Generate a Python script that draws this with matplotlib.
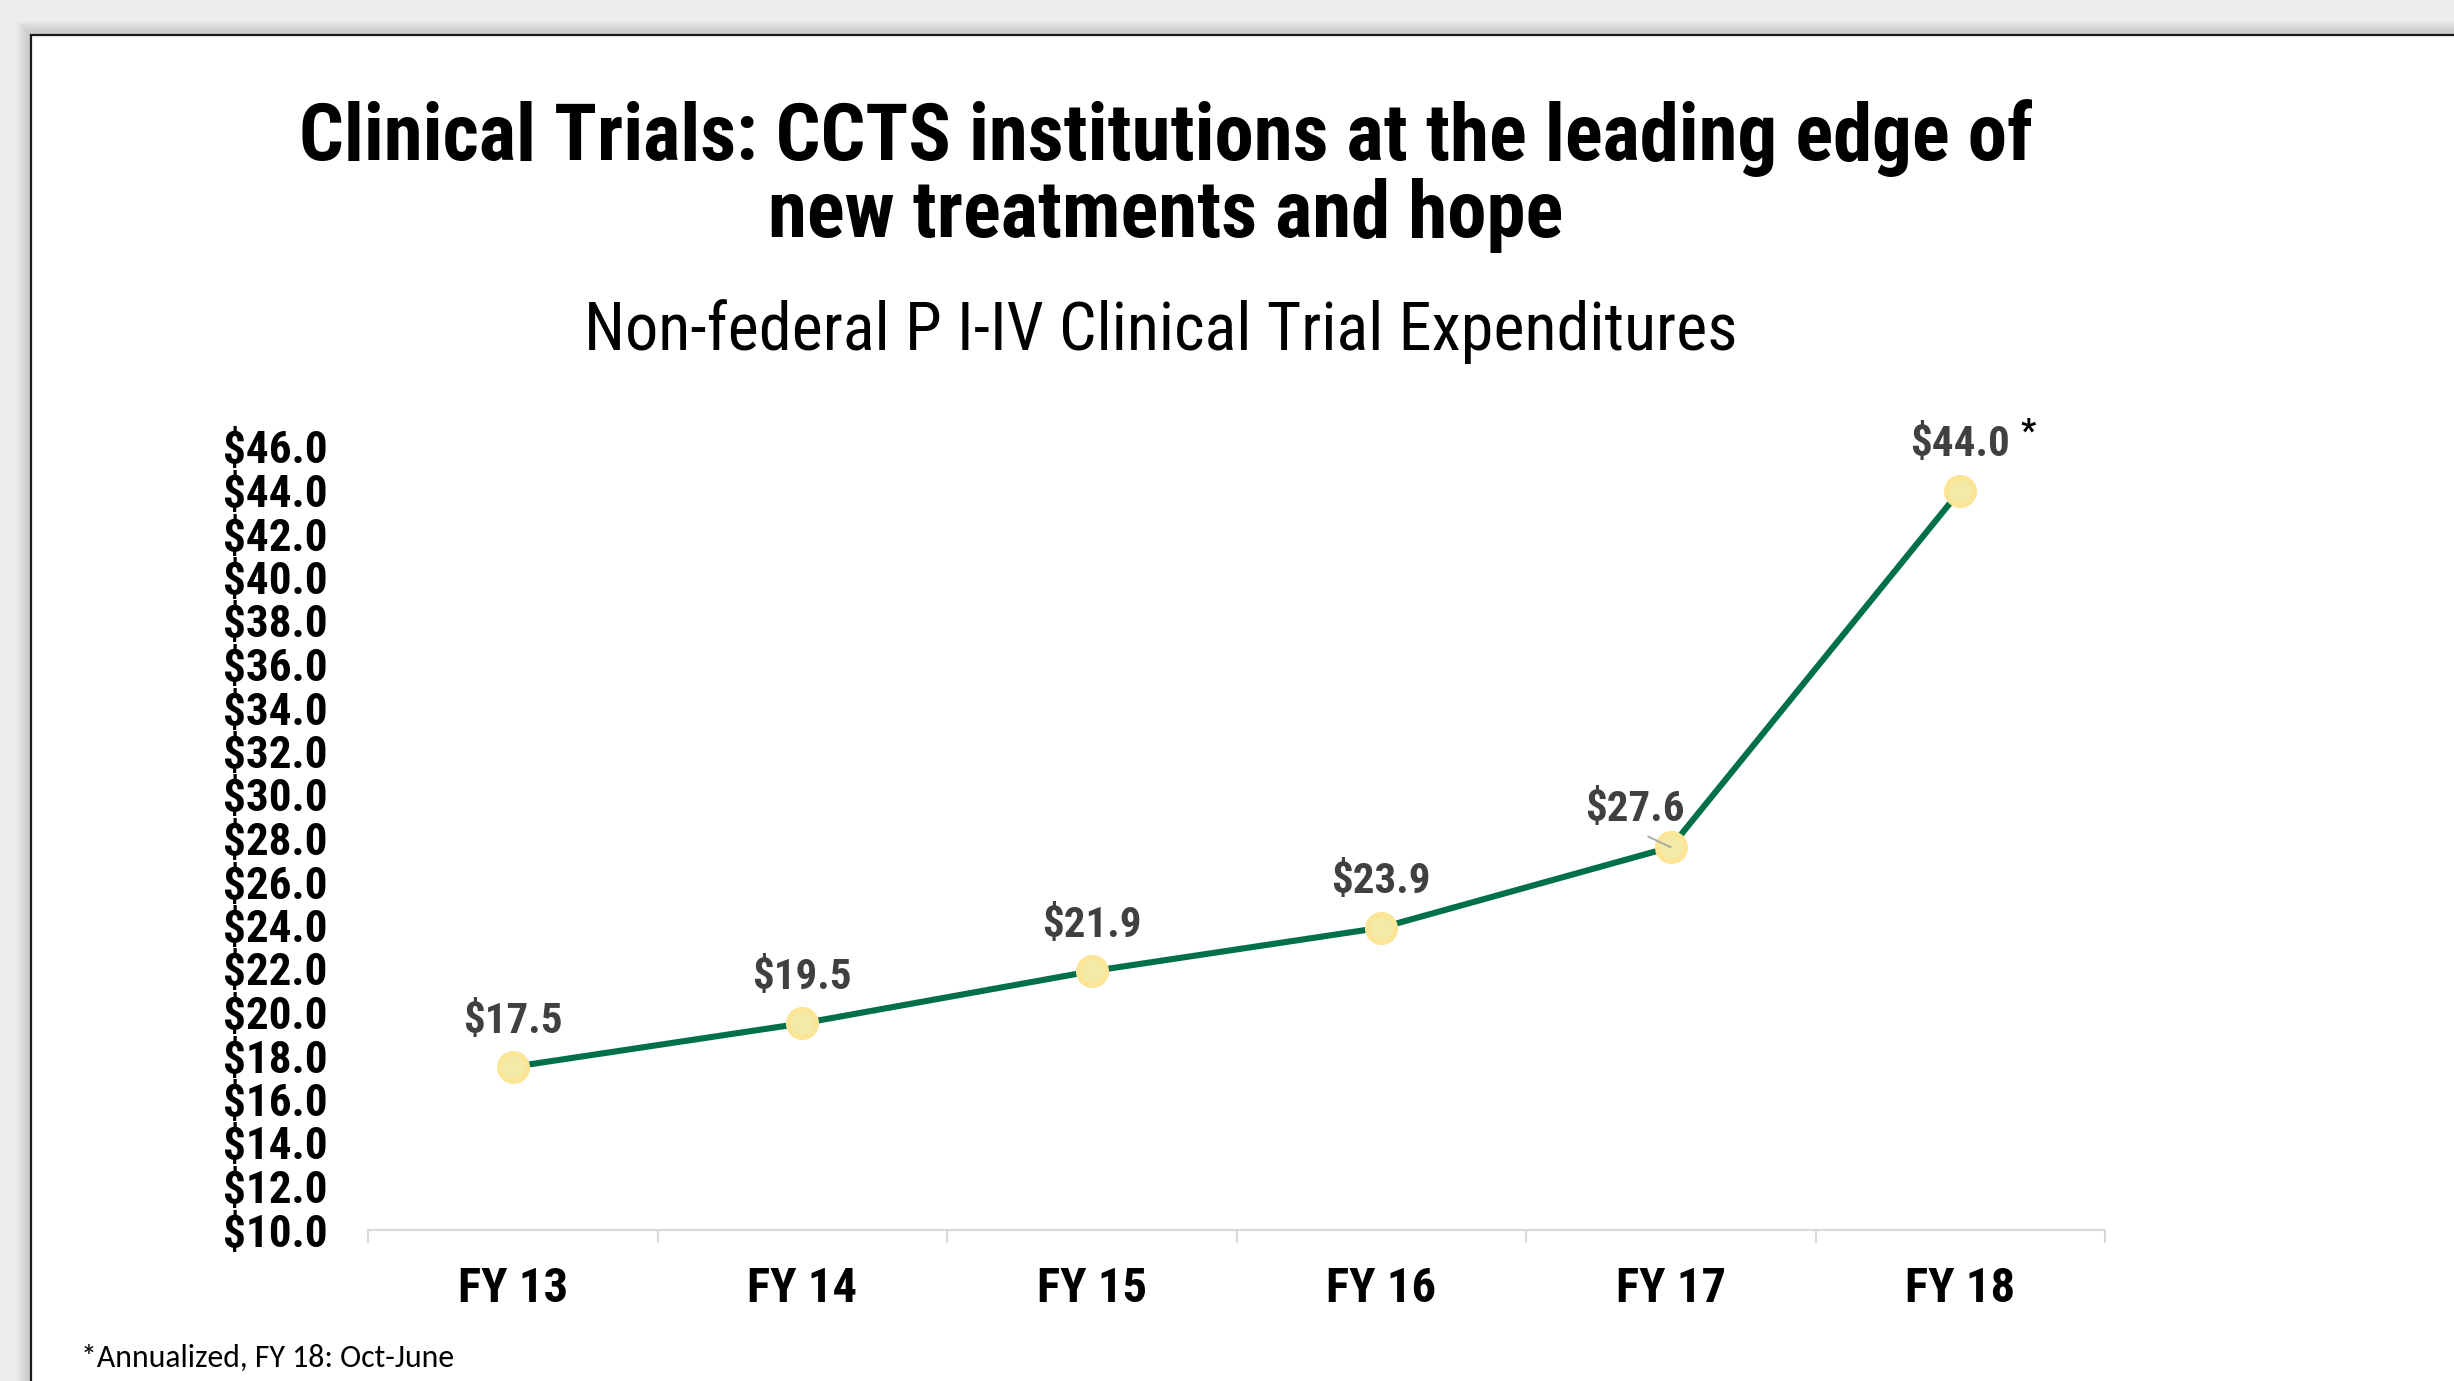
import numpy as np
import matplotlib.pyplot as plt
from matplotlib.patches import Rectangle
from matplotlib import font_manager

years = ['FY 13', 'FY 14', 'FY 15', 'FY 16', 'FY 17', 'FY 18']
spend = [17.5, 19.5, 21.9, 23.9, 27.6, 44.0]
y_ticks = np.arange(10, 47, 2)

title_1 = 'Clinical Trials: CCTS institutions at the leading edge of'
title_2 = 'new treatments and hope'
subtitle = 'Non-federal P I-IV Clinical Trial Expenditures'
note = '*Annualized, FY 18: Oct-June'


def pick(*families):
    names = {f.name for f in font_manager.fontManager.ttflist}
    for fam in families:
        if fam in names:
            return fam
    return 'Liberation Sans'


narrow = pick('Liberation Sans Narrow', 'Arial Narrow', 'Roboto Condensed', 'Archivo Narrow')
calibri = pick('Carlito', 'Calibri', 'Open Sans')

W, H = 2454, 1381
fig = plt.figure(figsize=(W / 100, H / 100), dpi=100, facecolor='#ececec')
renderer = fig.canvas.get_renderer()


def fit(txt, width_px):
    # scale a text so that its drawn width matches the reference
    w = txt.get_window_extent(renderer).width
    txt.set_fontsize(txt.get_fontsize() * width_px / w)
    return txt.get_fontsize()


# slide with soft shadow
bg = fig.add_axes([0, 0, 1, 1])
bg.set_xlim(0, W)
bg.set_ylim(H, 0)
bg.axis('off')
for i in range(14):
    d = 14 - i
    bg.add_patch(Rectangle((31 - d, 35 - d), W, H, facecolor='#9a9a9a',
                           alpha=0.035, edgecolor='none'))
bg.add_patch(Rectangle((31, 35), W, H, facecolor='white', edgecolor='#1a1a1a', lw=1.6))

t1 = bg.text(1166, 160, title_1, ha='center', va='baseline', fontsize=50,
             fontweight='bold', family=narrow)
fs_title = fit(t1, 1737)
bg.text(1166, 237, title_2, ha='center', va='baseline', fontsize=fs_title,
        fontweight='bold', family=narrow)
t3 = bg.text(1161, 350, subtitle, ha='center', va='baseline', fontsize=40, family=narrow)
fit(t3, 1153)
t4 = bg.text(81, 1358, note, ha='left', va='center', fontsize=20, family=calibri)
fit(t4, 373)

ax = fig.add_axes([368 / W, 1 - 1230 / H, 1737 / W, (1230 - 447) / H])
ax.set_facecolor('none')
x = np.arange(len(years))
ax.plot(x, spend, color='#00704a', lw=4.4, zorder=2)
ax.plot(x, spend, 'o', ms=20, mfc='#f3eaa8', mec='#fbe596', mew=3.8, zorder=3)

for i, v in enumerate(spend):
    if years[i] == 'FY 17':
        ax.annotate(f'${v:.1f}', (i, v), xytext=(-26, 27), textcoords='offset points',
                    ha='center', va='center', fontsize=31, fontweight='bold',
                    color='#404040', family=narrow,
                    arrowprops=dict(arrowstyle='-', color='#a6a6a6', lw=1.3,
                                    relpos=(0.5, 0.0), shrinkA=6, shrinkB=0))
    else:
        ax.annotate(f'${v:.1f}', (i, v), xytext=(0, 33), textcoords='offset points',
                    ha='center', va='center', fontsize=31, fontweight='bold',
                    color='#404040', family=narrow)
ax.annotate('*', (len(years) - 1, spend[-1]), xytext=(49, 42), textcoords='offset points',
            ha='center', va='center', fontsize=24, fontweight='bold', color='black',
            family=narrow)

ax.set_xlim(-0.5, len(years) - 0.5)
ax.set_ylim(y_ticks[0], y_ticks[-1])
ax.set_yticks(y_ticks)
ax.set_yticklabels([f'${t:.1f}' for t in y_ticks], fontsize=32.5, fontweight='bold',
                   family=narrow)
ax.tick_params(axis='y', length=0, pad=29)

ax.set_xticks(np.arange(-0.5, len(years)), minor=False)
ax.set_xticklabels([])
ax.set_xticks(x, minor=True)
ax.set_xticklabels(years, minor=True, fontsize=35, fontweight='bold', family=narrow)
ax.tick_params(axis='x', which='major', length=9.5, width=1.5, color='#d9d9d9', direction='out')
ax.tick_params(axis='x', which='minor', length=0, pad=26)

for s in ['top', 'right', 'left']:
    ax.spines[s].set_visible(False)
ax.spines['bottom'].set_color('#d9d9d9')
ax.spines['bottom'].set_linewidth(1.5)

fig.savefig('out.png', dpi=100, facecolor=fig.get_facecolor())
